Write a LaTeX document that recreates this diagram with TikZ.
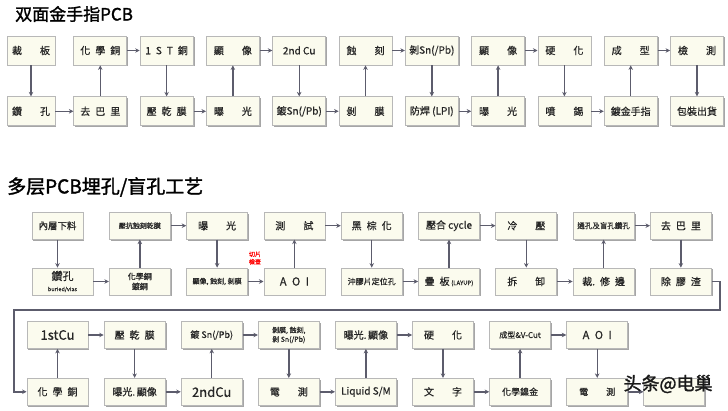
\documentclass[tikz,border=0pt]{standalone}
\usepackage{fontspec}
\setmainfont[FakeBold=0.6]{Noto Sans CJK TC}
\newfontfamily\titlefont[FakeBold=1.6]{Noto Sans CJK SC}
\usepackage{xcolor}
\usepackage{tikz}
\usetikzlibrary{positioning, arrows.meta, shadows}
\definecolor{boxfill}{HTML}{FBFBEE}
\definecolor{boxline}{HTML}{B8B8B8}
\definecolor{flowgray}{HTML}{5C5C6C}
\newcommand{\widegap}{\hspace{18pt}}
\newcommand{\fs}[1]{\fontsize{#1}{#1}\selectfont}

\begin{document}
\begin{tikzpicture}[
    x = 1pt, y = -1pt, align = center,
    stage/.style = {
      rectangle, draw = boxline, fill = boxfill, line width = 0.8pt,
      inner sep = 1pt, minimum width = 53pt, minimum height = 29pt,
      font = \fs{10}, text = black!85,
      drop shadow = {shadow xshift = 1.4pt, shadow yshift = -1.4pt,
        fill = gray!70, opacity = 1}
    },
    stage2/.style = {
      stage, minimum width = 61pt, minimum height = 27pt
    },
    link/.style = {
      draw = flowgray, line width = 1.4pt,
      -{Stealth[length = 4.5pt, width = 4.5pt]}
    },
    title/.style = {
      anchor = west, inner sep = 0pt, font = \titlefont\fs{17}
    },
    ]
\useasboundingbox [fill = white] (0, 0) rectangle (728, 411);

% 双面金手指PCB
\node  [title]  (title_1)  at (15, 14)  {双面金手指PCB};

\node  [stage, minimum width = 48pt]  (cai_ban)  at (31, 50.5)  {裁\widegap 板};
\node  [stage]  (hua_xue_tong)  [right = 18pt of cai_ban]  {化\enspace 學\enspace 銅};
\node  [stage]  (st_tong)  [right = 12.5pt of hua_xue_tong]  {1\enspace S\enspace T\enspace 銅};
\node  [stage]  (xian_xiang_1)  [right = 12.5pt of st_tong]  {顯\widegap 像};
\node  [stage]  (er_cu)  [right = 12.5pt of xian_xiang_1]  {2nd Cu};
\node  [stage]  (shi_ke)  [right = 12.5pt of er_cu]  {蝕\widegap 刻};
\node  [stage]  (bo_xi)  [right = 12.5pt of shi_ke]  {剝Sn(/Pb)};
\node  [stage]  (xian_xiang_2)  [right = 12.5pt of bo_xi]  {顯\widegap 像};
\node  [stage]  (ying_hua)  [right = 12.5pt of xian_xiang_2]  {硬\widegap 化};
\node  [stage]  (cheng_xing)  [right = 12.5pt of ying_hua]  {成\widegap 型};
\node  [stage]  (jian_ce)  [right = 12.5pt of cheng_xing]  {檢\widegap 測};

\node  [stage, minimum width = 48pt]  (zuan_kong)  [below = 31pt of cai_ban]  {鑽\widegap 孔};
\node  [stage]  (qu_ba_li)  [below = 31pt of hua_xue_tong]  {去\enspace 巴\enspace 里};
\node  [stage]  (ya_gan_mo)  [below = 31pt of st_tong]  {壓\enspace 乾\enspace 膜};
\node  [stage]  (pu_guang_1)  [below = 31pt of xian_xiang_1]  {曝\widegap 光};
\node  [stage]  (du_xi)  [below = 31pt of er_cu]  {鍍Sn(/Pb)};
\node  [stage]  (bo_mo)  [below = 31pt of shi_ke]  {剝\widegap 膜};
\node  [stage]  (fang_han)  [below = 31pt of bo_xi]  {防焊 (LPI)};
\node  [stage]  (pu_guang_2)  [below = 31pt of xian_xiang_2]  {曝\widegap 光};
\node  [stage]  (pen_xi)  [below = 31pt of ying_hua]  {噴\widegap 錫};
\node  [stage]  (du_jin)  [below = 31pt of cheng_xing]  {鍍金手指};
\node  [stage]  (bao_zhuang)  [below = 31pt of jian_ce]  {包裝出貨};

\draw  [link]  (cai_ban.south)  --  (zuan_kong.north);
\draw  [link]  (zuan_kong.east)  --  (qu_ba_li.west);
\draw  [link]  (qu_ba_li.north)  --  (hua_xue_tong.south);
\draw  [link]  (hua_xue_tong.east)  --  (st_tong.west);
\draw  [link]  (st_tong.south)  --  (ya_gan_mo.north);
\draw  [link]  (ya_gan_mo.east)  --  (pu_guang_1.west);
\draw  [link]  (pu_guang_1.north)  --  (xian_xiang_1.south);
\draw  [link]  (xian_xiang_1.east)  --  (er_cu.west);
\draw  [link]  (er_cu.south)  --  (du_xi.north);
\draw  [link]  (du_xi.east)  --  (bo_mo.west);
\draw  [link]  (bo_mo.north)  --  (shi_ke.south);
\draw  [link]  (shi_ke.east)  --  (bo_xi.west);
\draw  [link]  (bo_xi.south)  --  (fang_han.north);
\draw  [link]  (fang_han.east)  --  (pu_guang_2.west);
\draw  [link]  (pu_guang_2.north)  --  (xian_xiang_2.south);
\draw  [link]  (xian_xiang_2.east)  --  (ying_hua.west);
\draw  [link]  (ying_hua.south)  --  (pen_xi.north);
\draw  [link]  (pen_xi.east)  --  (du_jin.west);
\draw  [link]  (du_jin.north)  --  (cheng_xing.south);
\draw  [link]  (cheng_xing.east)  --  (jian_ce.west);
\draw  [link]  (jian_ce.south)  --  (bao_zhuang.north);

% 多层PCB埋孔/盲孔工艺
\node  [title, font = \titlefont\fs{19}]  (title_2)  at (7, 187)  {多层PCB埋孔/盲孔工艺};

\node  [stage2]  (zuan_kong_2)  at (62.5, 281.5)  {{\fs{11}鑽孔}\\[1pt] {\fs{5.5}buried/vias}};
\node  [stage2, font = \fs{8}]  (hua_xue_du_tong)  [right = 15.5pt of zuan_kong_2]  {化學銅\\[2pt] 鍍銅};
\node  [stage2, font = \fs{7}]  (xian_shi_bo)  [right = 15.5pt of hua_xue_du_tong]  {顯像, 蝕刻, 剝膜};
\node  [stage2, font = \fs{11}]  (aoi_1)  [right = 15.5pt of xian_shi_bo]  {A\enspace O\enspace I};
\node  [stage2, font = \fs{8}]  (chong_jiao)  [right = 15.5pt of aoi_1]  {沖膠片定位孔};
\node  [stage2]  (die_ban)  [right = 15.5pt of chong_jiao]  {疊\enspace 板\,{\fs{6}(LAYUP)}};
\node  [stage2]  (chai_xie)  [right = 15.5pt of die_ban]  {拆\widegap 卸};
\node  [stage2]  (cai_xiu)  [right = 15.5pt of chai_xie]  {裁.\enspace 修\enspace 邊};
\node  [stage2]  (chu_jiao_zha)  [right = 15.5pt of cai_xiu]  {除\enspace 膠\enspace 渣};

\node  [stage2, minimum width = 51pt, font = \fs{9.5}]  (nei_ceng)  [above right = 28pt and 0pt of zuan_kong_2.north west]  {內層下料};
\node  [stage2, font = \fs{7}]  (ya_kang)  [above = 28pt of hua_xue_du_tong]  {壓抗蝕刻乾膜};
\node  [stage2]  (pu_guang_3)  [above = 28pt of xian_shi_bo]  {曝\widegap 光};
\node  [stage2]  (ce_shi)  [above = 28pt of aoi_1]  {測\widegap 試};
\node  [stage2]  (hei_zong)  [above = 28pt of chong_jiao]  {黑\enspace 棕\enspace 化};
\node  [stage2]  (ya_he)  [above = 28pt of die_ban]  {壓合 cycle};
\node  [stage2]  (leng_ya)  [above = 28pt of chai_xie]  {冷\widegap 壓};
\node  [stage2, font = \fs{7.5}]  (tong_kong)  [above = 28pt of cai_xiu]  {通孔及盲孔鑽孔};
\node  [stage2]  (qu_ba_li_2)  [above = 28pt of chu_jiao_zha]  {去\enspace 巴\enspace 里};

\node  [text = red, font = \fs{6}, inner sep = 0pt]  (qie_pian)  at (255, 258)  {切片\\[1.5pt] 檢查};

\node  [stage2, font = \fs{13}]  (yi_cu)  at (57.5, 335)  {1stCu};
\node  [stage2]  (ya_gan_mo_2)  [right = 15.3pt of yi_cu]  {壓\enspace 乾\enspace 膜};
\node  [stage2, font = \fs{9}]  (du_xi_2)  [right = 15.3pt of ya_gan_mo_2]  {鍍 Sn(/Pb)};
\node  [stage2, font = \fs{7}]  (bo_shi_bo)  [right = 15.3pt of du_xi_2]  {剝膜, 蝕刻,\\[1pt] 剝 Sn(/Pb)};
\node  [stage2]  (pu_xian_1)  [right = 15.3pt of bo_shi_bo]  {曝光.\,顯像};
\node  [stage2]  (ying_hua_2)  [right = 15.3pt of pu_xian_1]  {硬\widegap 化};
\node  [stage2, font = \fs{8}]  (cheng_xing_2)  [right = 15.3pt of ying_hua_2]  {成型\&V-Cut};
\node  [stage2, font = \fs{11}]  (aoi_2)  [right = 15.3pt of cheng_xing_2]  {A\enspace O\enspace I};

\node  [stage2]  (hua_xue_tong_3)  [below = 29pt of yi_cu]  {化\enspace 學\enspace 銅};
\node  [stage2]  (pu_xian_2)  [below = 29pt of ya_gan_mo_2]  {曝光.\,顯像};
\node  [stage2, font = \fs{13}]  (er_cu_2)  [below = 29pt of du_xi_2]  {2ndCu};
\node  [stage2]  (dian_ce_1)  [below = 29pt of bo_shi_bo]  {電\widegap 測};
\node  [stage2]  (liquid)  [below = 29pt of pu_xian_1]  {Liquid S/M};
\node  [stage2]  (wen_zi)  [below = 29pt of ying_hua_2]  {文\widegap 字};
\node  [stage2, font = \fs{9}]  (hua_xue_nie_jin)  [below = 29pt of cheng_xing_2]  {化學鎳金};
\node  [stage2, font = \fs{9}]  (dian_ce_2)  [below = 29pt of aoi_2]  {電\widegap 測};
\node  [stage2]  (last_step)  [right = 15.3pt of dian_ce_2]  {};

\coordinate  (turn_r)  at (720, 310);
\coordinate  (turn_l)  at (14, 310);

\draw  [link]  (nei_ceng.south)  --  (nei_ceng |- zuan_kong_2.north);
\draw  [link]  (zuan_kong_2.east)  --  (hua_xue_du_tong.west);
\draw  [link]  (hua_xue_du_tong.north)  --  (ya_kang.south);
\draw  [link]  (ya_kang.east)  --  (pu_guang_3.west);
\draw  [link]  (pu_guang_3.south)  --  (xian_shi_bo.north);
\draw  [link]  (xian_shi_bo.east)  --  (aoi_1.west);
\draw  [link]  (aoi_1.north)  --  (ce_shi.south);
\draw  [link]  (ce_shi.east)  --  (hei_zong.west);
\draw  [link]  (hei_zong.south)  --  (chong_jiao.north);
\draw  [link]  (chong_jiao.east)  --  (die_ban.west);
\draw  [link]  (die_ban.north)  --  (ya_he.south);
\draw  [link]  (ya_he.east)  --  (leng_ya.west);
\draw  [link]  (leng_ya.south)  --  (chai_xie.north);
\draw  [link]  (chai_xie.east)  --  (cai_xiu.west);
\draw  [link]  (cai_xiu.north)  --  (tong_kong.south);
\draw  [link]  (tong_kong.east)  --  (qu_ba_li_2.west);
\draw  [link]  (qu_ba_li_2.south)  --  (chu_jiao_zha.north);
\draw  [link]  (chu_jiao_zha.east)  -|  (turn_r)  --  (turn_l)  |-  (hua_xue_tong_3.west);

\draw  [link]  (hua_xue_tong_3.north)  --  (yi_cu.south);
\draw  [link]  (yi_cu.east)  --  (ya_gan_mo_2.west);
\draw  [link]  (ya_gan_mo_2.south)  --  (pu_xian_2.north);
\draw  [link]  (pu_xian_2.east)  --  (er_cu_2.west);
\draw  [link]  (er_cu_2.north)  --  (du_xi_2.south);
\draw  [link]  (du_xi_2.east)  --  (bo_shi_bo.west);
\draw  [link]  (bo_shi_bo.south)  --  (dian_ce_1.north);
\draw  [link]  (dian_ce_1.east)  --  (liquid.west);
\draw  [link]  (liquid.north)  --  (pu_xian_1.south);
\draw  [link]  (pu_xian_1.east)  --  (ying_hua_2.west);
\draw  [link]  (ying_hua_2.south)  --  (wen_zi.north);
\draw  [link]  (wen_zi.east)  --  (hua_xue_nie_jin.west);
\draw  [link]  (hua_xue_nie_jin.north)  --  (cheng_xing_2.south);
\draw  [link]  (cheng_xing_2.east)  --  (aoi_2.west);
\draw  [link]  (aoi_2.south)  --  (dian_ce_2.north);
\draw  [link]  (dian_ce_2.east)  --  (last_step.west);

\node  [font = \titlefont\fs{18}, text = black!90, inner sep = 0pt]  (watermark)  at (668, 384)  {头条@电巢};

\end{tikzpicture}
\end{document}
